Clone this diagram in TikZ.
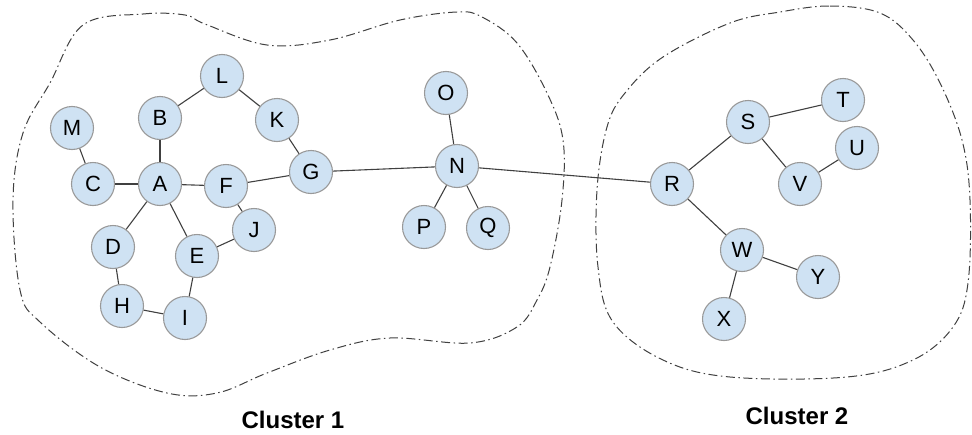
\documentclass[tikz,border=0pt]{standalone}
\usepackage{fontspec}
\setmainfont{Liberation Sans}
\begin{document}
\begin{tikzpicture}[x=1pt,y=-1pt,
  vtx/.style={circle,draw=black!40,line width=1.1pt,fill={rgb,255:red,207;green,226;blue,243},minimum size=43pt,inner sep=0pt,font=\fontsize{22}{24}\selectfont},
  edge/.style={draw=black!75,line width=1.1pt},
  blob/.style={draw=black!75,line width=1pt,dash pattern=on 9pt off 3.5pt on 1.5pt off 3.5pt},
  lbl/.style={font=\fontsize{24}{28}\selectfont\bfseries}]
\useasboundingbox (0,0) rectangle (972,434);
% cluster outlines
\draw[blob] plot[smooth cycle,tension=0.6] coordinates {(83,25) (143,14) (185,15) (205,24) (267,45) (330,40) (400,20) (457,12) (482,17) (517,43) (547,93) (563,140) (562,200) (550,267) (537,300) (517,327) (470,343) (390,338) (330,350) (267,373) (217,393) (167,393) (100,367) (40,322) (20,290) (13,200) (23,133) (50,83)};
\draw[blob] plot[smooth cycle,tension=0.6] coordinates {(780,12) (830,6) (880,13) (913,40) (940,83) (962,140) (970,200) (968,283) (953,327) (913,360) (847,377) (730,377) (663,360) (613,322) (598,267) (597,190) (607,127) (625,93) (663,57) (730,23)};
% nodes
\node[vtx] (M) at (72,128) {M};
\node[vtx] (C) at (93,184) {C};
\node[vtx] (A) at (160,184) {A};
\node[vtx] (B) at (160,118) {B};
\node[vtx] (L) at (222,76) {L};
\node[vtx] (K) at (277,120) {K};
\node[vtx] (G) at (311,172) {G};
\node[vtx] (F) at (226,186) {F};
\node[vtx] (J) at (254,230) {J};
\node[vtx] (E) at (197,256) {E};
\node[vtx] (D) at (113,247) {D};
\node[vtx] (H) at (122,306) {H};
\node[vtx] (I) at (185,318) {I};
\node[vtx] (O) at (446,93) {O};
\node[vtx] (N) at (457,166) {N};
\node[vtx] (P) at (424,227) {P};
\node[vtx] (Q) at (488,228) {Q};
\node[vtx] (R) at (672,184) {R};
\node[vtx] (S) at (748,122) {S};
\node[vtx] (T) at (843,100) {T};
\node[vtx] (U) at (857,148) {U};
\node[vtx] (V) at (800,184) {V};
\node[vtx] (W) at (742,250) {W};
\node[vtx] (Y) at (818,277) {Y};
\node[vtx] (X) at (724,319) {X};
% edges
\foreach \a/\b in {M/C,C/A,A/B,B/L,L/K,K/G,A/F,F/G,F/J,J/E,A/E,A/D,D/H,H/I,I/E,G/N,N/O,N/P,N/Q,N/R,R/S,S/T,S/V,V/U,R/W,W/Y,W/X}
  \draw[edge] (\a) -- (\b);
% labels
\node[lbl] (c1) at (293,420) {Cluster 1};
\node[lbl] (c2) at (797,416) {Cluster 2};
\end{tikzpicture}
\end{document}
